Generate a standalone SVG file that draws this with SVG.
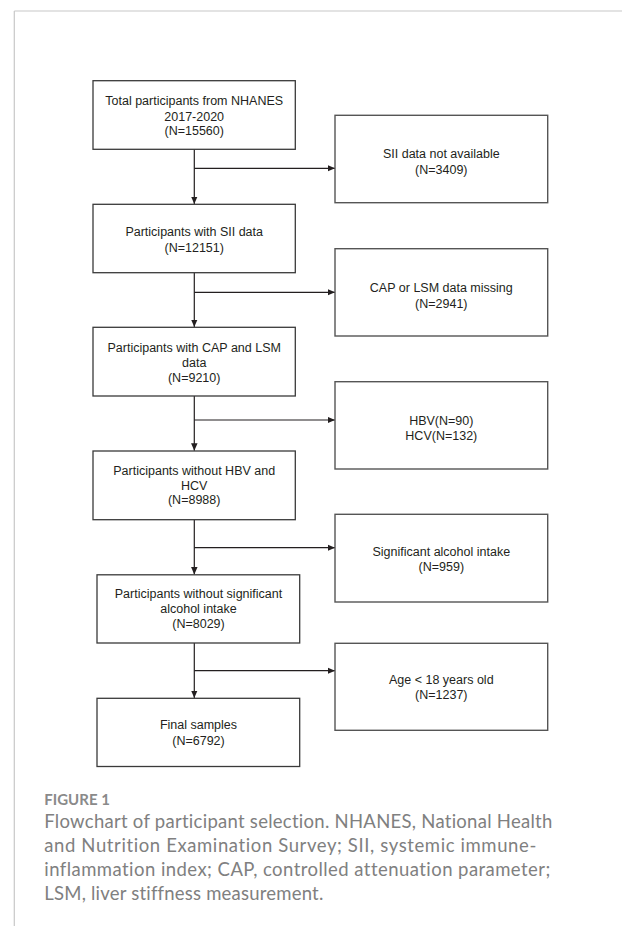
<svg xmlns="http://www.w3.org/2000/svg" width="622" height="926" viewBox="0 0 622 926">
<style>
.box{fill:#fff;stroke:#3a3a3a;stroke-width:1.3}
.rbox{fill:#fff;stroke:#555;stroke-width:1.4}
.t{font-family:"Liberation Sans",Arial,sans-serif;font-size:12.5px;fill:#231f20;text-anchor:middle}
.con{fill:none;stroke:#231f20;stroke-width:1.2}
.cap{font-family:Lato,"Open Sans",sans-serif;font-size:18.5px;fill:#808080;font-variant-ligatures:none;font-feature-settings:"liga" 0,"dlig" 0}
.fig{font-family:Lato,"Open Sans",sans-serif;font-size:15px;font-weight:bold;fill:#8a8a8a}
</style>
<defs>
<marker id="ah" markerUnits="userSpaceOnUse" markerWidth="8" markerHeight="7" refX="7.5" refY="3.25" orient="auto">
<path d="M0,0 L7.5,3.25 L0,6.5 Z" fill="#231f20"/>
</marker>
</defs>
<rect width="622" height="926" fill="#fff"/>
<g id="frame">
<line x1="14.3" y1="11" x2="622" y2="11" stroke="#c8c8c8" stroke-width="1.2"/>
<line x1="14.3" y1="11" x2="14.3" y2="926" stroke="#c8c8c8" stroke-width="1.2"/>
</g>
<g id="connectors">
<line class="con" x1="194.3" y1="149.3" x2="194.3" y2="204" marker-end="url(#ah)"/>
<line class="con" x1="194.3" y1="168.3" x2="335" y2="168.3" marker-end="url(#ah)"/>
<line class="con" x1="194.3" y1="272.7" x2="194.3" y2="327" marker-end="url(#ah)"/>
<line class="con" x1="194.3" y1="292.3" x2="335" y2="292.3" marker-end="url(#ah)"/>
<line class="con" x1="194.3" y1="396" x2="194.3" y2="450.7" marker-end="url(#ah)"/>
<line class="con" x1="194.3" y1="420" x2="335" y2="420" marker-end="url(#ah)"/>
<line class="con" x1="194.3" y1="519.7" x2="194.3" y2="574.5" marker-end="url(#ah)"/>
<line class="con" x1="194.3" y1="547.7" x2="335" y2="547.7" marker-end="url(#ah)"/>
<line class="con" x1="194.3" y1="643" x2="194.3" y2="698" marker-end="url(#ah)"/>
<line class="con" x1="194.3" y1="670.7" x2="335" y2="670.7" marker-end="url(#ah)"/>
</g>
<g id="n1">
<rect class="box" x="93" y="80.7" width="202.3" height="68.6"/>
<text class="t" x="194.2" y="105.2">Total participants from NHANES</text>
<text class="t" x="194.2" y="120.6">2017-2020</text>
<text class="t" x="194.2" y="135.2">(N=15560)</text>
</g>
<g id="n2">
<rect class="box" x="93" y="204.3" width="202.3" height="68.4"/>
<text class="t" x="194.2" y="236.2">Participants with SII data</text>
<text class="t" x="194.2" y="251.8">(N=12151)</text>
</g>
<g id="n3">
<rect class="box" x="93" y="327.3" width="202.3" height="68.7"/>
<text class="t" x="194.2" y="351.8">Participants with CAP and LSM</text>
<text class="t" x="194.2" y="367.1">data</text>
<text class="t" x="194.2" y="382.2">(N=9210)</text>
</g>
<g id="n4">
<rect class="box" x="93" y="451" width="202.3" height="68.7"/>
<text class="t" x="194.2" y="474.5">Participants without HBV and</text>
<text class="t" x="194.2" y="489.5">HCV</text>
<text class="t" x="194.2" y="503.8">(N=8988)</text>
</g>
<g id="n5">
<rect class="box" x="97" y="574.8" width="202.7" height="68.2"/>
<text class="t" x="198.5" y="597.8">Participants without significant</text>
<text class="t" x="198.5" y="613.2">alcohol intake</text>
<text class="t" x="198.5" y="627.8">(N=8029)</text>
</g>
<g id="n6">
<rect class="box" x="97" y="698.3" width="202.7" height="68.2"/>
<text class="t" x="198.5" y="728.8">Final samples</text>
<text class="t" x="198.5" y="744.5">(N=6792)</text>
</g>
<g id="r1">
<rect class="rbox" x="335" y="115.3" width="212.7" height="87.4"/>
<text class="t" x="441.3" y="157.8">SII data not available</text>
<text class="t" x="441.3" y="173.5">(N=3409)</text>
</g>
<g id="r2">
<rect class="rbox" x="335" y="248.7" width="212.7" height="87.3"/>
<text class="t" x="441.3" y="291.8">CAP or LSM data missing</text>
<text class="t" x="441.3" y="307.8">(N=2941)</text>
</g>
<g id="r3">
<rect class="rbox" x="335" y="381.7" width="212.7" height="87.3"/>
<text class="t" x="441.3" y="424.5">HBV(N=90)</text>
<text class="t" x="441.3" y="439.5">HCV(N=132)</text>
</g>
<g id="r4">
<rect class="rbox" x="335" y="514.3" width="212.7" height="87.7"/>
<text class="t" x="441.3" y="555.5">Significant alcohol intake</text>
<text class="t" x="441.3" y="571.2">(N=959)</text>
</g>
<g id="r5">
<rect class="rbox" x="335" y="643.3" width="212.7" height="87"/>
<text class="t" x="441.3" y="683.5">Age &lt; 18 years old</text>
<text class="t" x="441.3" y="698.5">(N=1237)</text>
</g>
<g id="caption">
<text class="fig" x="44.3" y="804.5">FIGURE 1</text>
<text class="cap" x="44.3" y="828" textLength="508" lengthAdjust="spacing">Flowchart of participant selection. NHANES, National Health</text>
<text class="cap" x="44.3" y="852" textLength="492" lengthAdjust="spacing">and Nutrition Examination Survey; SII, systemic immune-</text>
<text class="cap" x="44.3" y="876" textLength="506" lengthAdjust="spacing">inflammation index; CAP, controlled attenuation parameter;</text>
<text class="cap" x="44.3" y="900" textLength="279" lengthAdjust="spacing">LSM, liver stiffness measurement.</text>
</g>
</svg>
